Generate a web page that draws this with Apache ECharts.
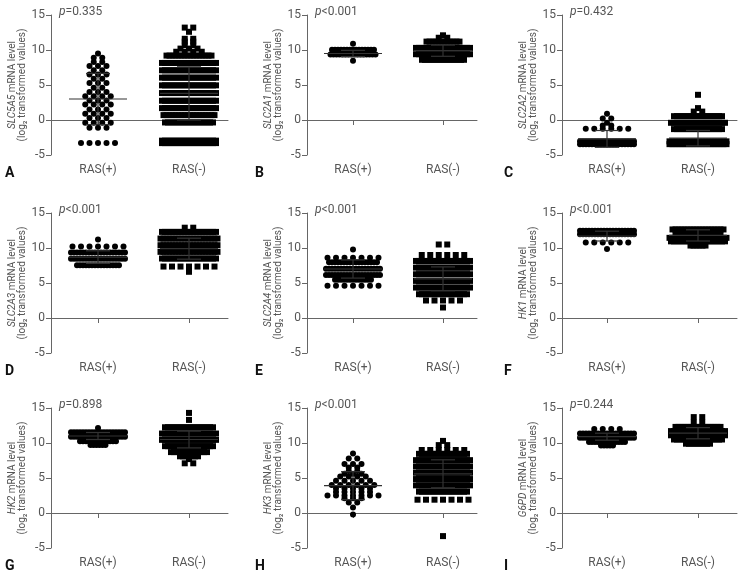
<!DOCTYPE html>
<html>
<head>
<meta charset="utf-8">
<script src="https://cdn.jsdelivr.net/npm/echarts@6/dist/echarts.min.js"></script>
<style>
  html, body { margin: 0; background: #fff; }
  #chart { width: 745px; height: 573px; }
</style>
</head>
<body>
<div id="chart"></div>
<script>
// panel labels, genes and p values
const letters = ['A', 'B', 'C', 'D', 'E', 'F', 'G', 'H', 'I'];
const genes = ['SLC5A5', 'SLC2A1', 'SLC2A2', 'SLC2A3', 'SLC2A4', 'HK1', 'HK2', 'HK3', 'G6PD'];
const pValues = ['=0.335', '<0.001', '=0.432', '<0.001', '<0.001', '<0.001', '=0.898', '<0.001', '=0.244'];
const groups = ['RAS(+)', 'RAS(-)'];
const yTicks = [-5, 0, 5, 10, 15];

// rows of points: [log2 value, number of points in that row]
// "packed" rows are tight (overlapping) rows, "loose" rows are single spread points
// mean / SD per group: [[mean, sd] RAS(+), [mean, sd] RAS(-)]

// A  SLC5A5
const slc5a5PosPacked = [];
const slc5a5PosLoose = [[9.5, 1], [8.9, 2], [8.3, 2], [7.7, 3], [7.1, 2], [6.5, 3], [5.9, 2], [5.3, 3], [4.6, 2], [4.0, 3],
  [3.4, 4], [2.8, 3], [2.2, 4], [1.5, 3], [0.9, 4], [0.3, 3], [-0.4, 4], [-1.1, 3], [-3.3, 5]];
const slc5a5NegPacked = [[9.2, 16], [8.15, 19], [7.1, 19], [6.05, 19], [4.95, 19], [3.85, 19], [2.75, 19], [1.7, 19],
  [0.7, 18], [-0.35, 17], [-2.95, 19], [-3.3, 19]];
const slc5a5NegLoose = [[13.2, 2], [12.6, 1], [11.6, 2], [11.2, 2], [10.7, 2], [10.2, 3], [9.75, 4]];
const slc5a5Stats = [[3.0, 3.65], [3.8, 3.8]];

// B  SLC2A1
const slc2a1PosPacked = [[10.05, 15], [9.35, 16]];
const slc2a1PosLoose = [[10.9, 1], [8.45, 1]];
const slc2a1NegPacked = [[11.2, 12], [10.3, 19], [9.4, 19], [8.6, 15]];
const slc2a1NegLoose = [[12.1, 1], [11.75, 2]];
const slc2a1Stats = [[9.5, 0.45], [9.9, 0.8]];

// C  SLC2A2
const slc2a2PosPacked = [[-3.05, 19], [-3.45, 19]];
const slc2a2PosLoose = [[0.9, 1], [0.2, 2], [-0.4, 1], [-0.8, 2], [-1.25, 6]];
const slc2a2NegPacked = [[0.55, 17], [-0.4, 19], [-1.3, 17], [-3.05, 20], [-3.45, 20]];
const slc2a2NegLoose = [[3.6, 1], [1.7, 1], [1.2, 2]];
const slc2a2Stats = [[-2.7, 1.2], [-2.6, 1.1]];

// D  SLC2A3
const slc2a3PosPacked = [[9.35, 19], [8.45, 19], [7.55, 15]];
const slc2a3PosLoose = [[11.2, 1], [10.2, 7]];
const slc2a3NegPacked = [[12.3, 19], [11.35, 20], [10.4, 20], [9.45, 20], [8.5, 19]];
const slc2a3NegLoose = [[12.9, 2], [7.35, 7], [6.6, 1]];
const slc2a3Stats = [[8.7, 0.9], [9.9, 1.5]];

// E  SLC2A4
const slc2a4PosPacked = [[7.95, 17], [7.05, 19], [6.15, 19], [5.45, 13]];
const slc2a4PosLoose = [[9.8, 1], [8.6, 7], [4.6, 7]];
const slc2a4NegPacked = [[8.15, 19], [7.2, 19], [6.25, 19], [5.3, 19], [4.35, 19], [3.4, 17]];
const slc2a4NegLoose = [[10.5, 2], [9.0, 6], [2.5, 5], [1.5, 1]];
const slc2a4Stats = [[7.0, 1.3], [5.6, 1.7]];

// F  HK1
const hk1PosPacked = [[12.45, 19], [11.95, 19]];
const hk1PosLoose = [[10.8, 6], [9.85, 1]];
const hk1NegPacked = [[12.65, 18], [12.0, 16], [11.45, 20], [10.95, 19], [10.35, 6]];
const hk1NegLoose = [];
const hk1Stats = [[11.7, 0.7], [11.8, 0.8]];

// G  HK2
const hk2PosPacked = [[11.55, 19], [10.9, 19], [10.25, 13], [9.7, 6]];
const hk2PosLoose = [[12.15, 1]];
const hk2NegPacked = [[12.25, 17], [11.35, 19], [10.45, 19], [9.55, 17], [8.7, 13], [8.1, 7]];
const hk2NegLoose = [[14.3, 1], [13.3, 1], [7.7, 1], [7.1, 2]];
const hk2Stats = [[11.0, 0.5], [10.5, 1.2]];

// H  HK3
const hk3PosPacked = [];
const hk3PosLoose = [[8.5, 1], [7.8, 2], [7.0, 3], [6.5, 2], [6.0, 2], [5.6, 3], [5.2, 4], [4.6, 5], [4.0, 6],
  [3.5, 5], [3.0, 5], [2.5, 7], [2.1, 3], [1.5, 2], [0.8, 1], [-0.2, 1]];
const hk3NegPacked = [[8.45, 17], [7.55, 19], [6.65, 19], [5.75, 19], [4.85, 19], [3.95, 19], [3.05, 17]];
const hk3NegLoose = [[10.3, 1], [9.7, 2], [9.0, 6], [1.9, 7], [-3.3, 1]];
const hk3Stats = [[3.9, 2.0], [5.6, 2.0]];

// I  G6PD
const g6pdPosPacked = [[11.35, 19], [10.75, 19], [10.15, 13], [9.65, 5]];
const g6pdPosLoose = [[12.0, 4]];
const g6pdNegPacked = [[12.3, 16], [11.7, 19], [11.1, 19], [10.5, 17], [9.9, 9]];
const g6pdNegLoose = [[13.7, 2], [12.9, 2]];
const g6pdStats = [[10.9, 0.5], [11.4, 0.8]];

const panels = [
  [slc5a5PosPacked, slc5a5PosLoose, slc5a5NegPacked, slc5a5NegLoose, slc5a5Stats],
  [slc2a1PosPacked, slc2a1PosLoose, slc2a1NegPacked, slc2a1NegLoose, slc2a1Stats],
  [slc2a2PosPacked, slc2a2PosLoose, slc2a2NegPacked, slc2a2NegLoose, slc2a2Stats],
  [slc2a3PosPacked, slc2a3PosLoose, slc2a3NegPacked, slc2a3NegLoose, slc2a3Stats],
  [slc2a4PosPacked, slc2a4PosLoose, slc2a4NegPacked, slc2a4NegLoose, slc2a4Stats],
  [hk1PosPacked, hk1PosLoose, hk1NegPacked, hk1NegLoose, hk1Stats],
  [hk2PosPacked, hk2PosLoose, hk2NegPacked, hk2NegLoose, hk2Stats],
  [hk3PosPacked, hk3PosLoose, hk3NegPacked, hk3NegLoose, hk3Stats],
  [g6pdPosPacked, g6pdPosLoose, g6pdNegPacked, g6pdNegLoose, g6pdStats]
];

// layout (px)
const cols = [
  { left: 51, width: 177, t1: 98, t2: 189, letterX: 5 },
  { left: 307, width: 170, t1: 353, t2: 443, letterX: 255 },
  { left: 562, width: 175, t1: 607, t2: 698, letterX: 504 }
];
const rowTops = [15, 213, 408];
const plotH = 140;
const FONT = "'Roboto', sans-serif";
const TXT = '#555';
const AXIS = '#666';
const DOT = '#000';

// spread each row of points sideways around its group centre
function layout(rows, pitch, cx, unit) {
  const out = [];
  rows.forEach(([v, n]) => {
    for (let i = 0; i < n; i++) {
      out.push([cx + (i - (n - 1) / 2) * pitch / unit, v]);
    }
  });
  return out;
}

const chart = echarts.init(document.getElementById('chart'));
const grid = [], xAxis = [], yAxis = [], series = [], graphic = [];

panels.forEach((p, i) => {
  const col = cols[i % 3];
  const top = rowTops[Math.floor(i / 3)];
  const unit = col.t2 - col.t1;
  const xMin = 1 - (col.t1 - col.left) / unit;

  grid.push({ left: col.left, top: top, width: col.width, height: plotH });
  xAxis.push({
    type: 'value', gridIndex: i, min: xMin, max: xMin + col.width / unit,
    axisLine: { lineStyle: { color: AXIS } },
    axisTick: { customValues: [1, 2], length: 5, lineStyle: { color: AXIS } },
    axisLabel: {
      customValues: [1, 2], formatter: v => groups[Math.round(v) - 1],
      color: TXT, fontSize: 12, margin: 9, fontFamily: FONT
    },
    splitLine: { show: false }
  });
  yAxis.push({
    type: 'value', gridIndex: i, min: yTicks[0], max: yTicks[yTicks.length - 1], interval: 5,
    axisLine: { show: true, lineStyle: { color: AXIS } },
    axisTick: { show: true, length: 5, lineStyle: { color: AXIS } },
    axisLabel: { color: TXT, fontSize: 12, margin: 6, fontFamily: FONT },
    splitLine: { show: false },
    name: '{g|' + genes[i] + '} mRNA level\n(log₂ transformed values)',
    nameLocation: 'middle', nameGap: 24, nameRotate: 90, nameMoveOverlap: false,
    nameTextStyle: {
      color: TXT, fontSize: 10, fontFamily: FONT, lineHeight: 10,
      rich: { g: { fontStyle: 'italic', color: TXT, fontSize: 10, fontFamily: FONT, lineHeight: 10 } }
    }
  });

  [0, 1].forEach(k => {
    series.push({
      type: 'scatter', xAxisIndex: i, yAxisIndex: i,
      symbol: k ? 'rect' : 'circle', symbolSize: 6,
      itemStyle: { color: DOT, opacity: 1 }, silent: true,
      data: layout(p[k * 2], 3, k + 1, unit).concat(layout(p[k * 2 + 1], 8.5, k + 1, unit))
    });
  });

  // mean line and SD bars
  series.push({
    type: 'custom', xAxisIndex: i, yAxisIndex: i, z: 5, silent: true,
    data: p[4].map((s, k) => [k + 1, s[0], s[1]]),
    renderItem: (params, api) => {
      const x = api.value(0), m = api.value(1), sd = api.value(2);
      const c = api.coord([x, m]), hi = api.coord([x, m + sd]), lo = api.coord([x, m - sd]);
      const st = { stroke: '#333', lineWidth: 1.2 };
      return {
        type: 'group', children: [
          { type: 'line', shape: { x1: c[0] - 29, y1: c[1], x2: c[0] + 29, y2: c[1] }, style: st },
          { type: 'line', shape: { x1: c[0] - 12, y1: hi[1], x2: c[0] + 12, y2: hi[1] }, style: st },
          { type: 'line', shape: { x1: c[0] - 12, y1: lo[1], x2: c[0] + 12, y2: lo[1] }, style: st },
          { type: 'line', shape: { x1: c[0], y1: hi[1], x2: c[0], y2: lo[1] }, style: st }
        ]
      };
    }
  });

  graphic.push({
    type: 'text', left: col.left + 8, top: top - 9,
    style: {
      text: '{i|p}' + pValues[i], fill: TXT, fontSize: 12, fontFamily: FONT,
      rich: { i: { fontStyle: 'italic', fill: TXT, fontSize: 12, fontFamily: FONT } }
    }
  });
  graphic.push({
    type: 'text', left: col.letterX, top: top + 151,
    style: { text: letters[i], fill: '#111', fontSize: 14, fontWeight: 'bold', fontFamily: FONT }
  });
});

chart.setOption({
  animation: false,
  grid, xAxis, yAxis, series, graphic
});
</script>
</body>
</html>
